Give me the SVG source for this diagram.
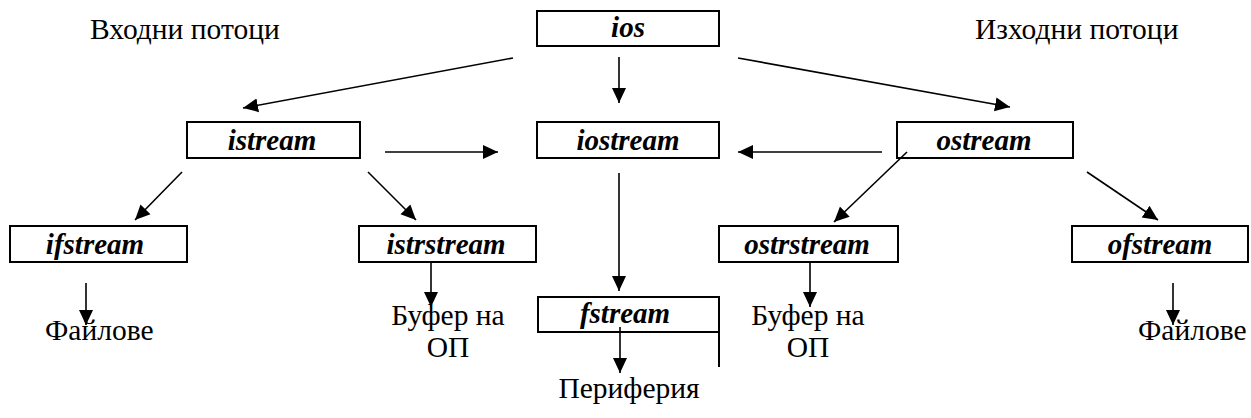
<svg xmlns="http://www.w3.org/2000/svg" width="1251" height="418" viewBox="0 0 1251 418">
<style>
.box{fill:#fff;stroke:#000;stroke-width:2}
.lbl{font-size:29px;font-weight:bold;font-style:italic;text-anchor:middle;fill:#000}
.txt{font-size:29.5px;fill:#000}
.mid{text-anchor:middle}
.conn line{stroke:#000;stroke-width:1.6;marker-end:url(#ah)}
</style>
<defs>
<marker id="ah" markerUnits="userSpaceOnUse" markerWidth="16" markerHeight="16" viewBox="0 0 16 16" refX="15" refY="8" orient="auto">
<path d="M0,1 L15,8 L0,15 z" fill="#000"/>
</marker>
</defs>
<rect width="1251" height="418" fill="#fff"/>
<g font-family="'Liberation Serif', 'Times New Roman', serif">
<g id="titles">
<text class="txt" x="90" y="39">Входни потоци</text>
<text class="txt" x="975" y="39">Изходни потоци</text>
</g>
<g id="ios"><rect class="box" x="537" y="11" width="182" height="35"/><text class="lbl" x="628" y="37">ios</text></g>
<g id="istream"><rect class="box" x="187" y="122" width="173" height="36"/><text class="lbl" x="272" y="150">istream</text></g>
<g id="iostream"><rect class="box" x="537" y="122" width="182" height="36"/><text class="lbl" x="628" y="150">iostream</text></g>
<g id="ostream"><rect class="box" x="897" y="122" width="176" height="36"/><text class="lbl" x="984" y="150">ostream</text></g>
<g id="ifstream"><rect class="box" x="10" y="226" width="177" height="36"/><text class="lbl" x="95" y="254">ifstream</text></g>
<g id="istrstream"><rect class="box" x="359" y="226" width="177" height="36"/><text class="lbl" x="446" y="254">istrstream</text></g>
<g id="ostrstream"><rect class="box" x="719" y="226" width="179" height="36"/><text class="lbl" x="807" y="254">ostrstream</text></g>
<g id="ofstream"><rect class="box" x="1072" y="226" width="176" height="36"/><text class="lbl" x="1160" y="254">ofstream</text></g>
<g id="fstream"><rect class="box" x="538" y="297" width="181" height="35"/><line x1="719" y1="297" x2="719" y2="367" stroke="#000" stroke-width="2"/><text class="lbl" x="625" y="323">fstream</text></g>
<g id="files-left"><text class="txt" x="45" y="340">Файлове</text></g>
<g id="buffer-left"><text class="txt mid" x="448" y="325">Буфер на</text><text class="txt mid" x="448" y="357">ОП</text></g>
<g id="periphery"><text class="txt mid" x="629" y="398">Периферия</text></g>
<g id="buffer-right"><text class="txt mid" x="808" y="325">Буфер на</text><text class="txt mid" x="808" y="357">ОП</text></g>
<g id="files-right"><text class="txt" x="1138" y="340">Файлове</text></g>
</g>
<g id="connectors" class="conn">
<line x1="619" y1="57" x2="619" y2="103"/>
<line x1="513" y1="58" x2="243" y2="108"/>
<line x1="738" y1="58" x2="1010" y2="107"/>
<line x1="385" y1="152" x2="498" y2="152"/>
<line x1="882" y1="152" x2="738" y2="152"/>
<line x1="182" y1="172" x2="135" y2="220"/>
<line x1="368" y1="172" x2="416" y2="220"/>
<line x1="619" y1="173" x2="619" y2="291"/>
<line x1="907" y1="152" x2="834" y2="222"/>
<line x1="1087" y1="172" x2="1158" y2="220"/>
<line x1="86" y1="283" x2="86" y2="325"/>
<line x1="431" y1="262" x2="431" y2="307"/>
<line x1="620" y1="327" x2="620" y2="373"/>
<line x1="810" y1="262" x2="810" y2="307"/>
<line x1="1173" y1="283" x2="1173" y2="325"/>
</g>
</svg>
